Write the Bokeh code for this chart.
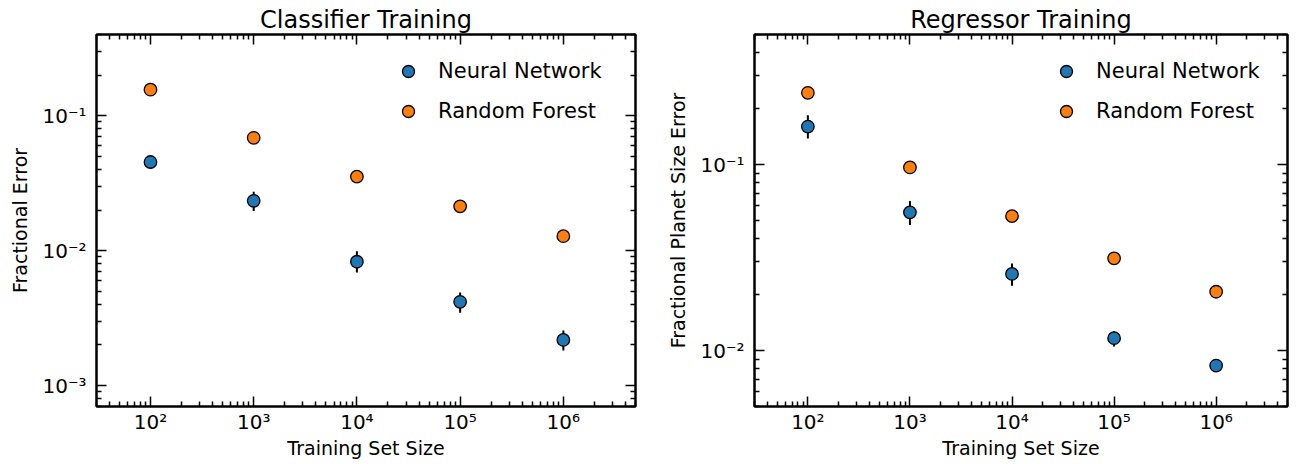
from bokeh.plotting import figure
from bokeh.layouts import row
from bokeh.models import (ColumnDataSource, FixedTicker, LogAxis, Legend, LegendItem,
                          Range1d)
from bokeh.embed import file_html
from bokeh.resources import INLINE

# ---------------- data ----------------
train_size = [1e2, 1e3, 1e4, 1e5, 1e6]

clf_nn = [0.0454, 0.0234, 0.00828, 0.00418, 0.00218]
clf_nn_lo = [0.0405, 0.0197, 0.0069, 0.00347, 0.00182]
clf_nn_hi = [0.0505, 0.0273, 0.0099, 0.0049, 0.00256]
clf_rf = [0.156, 0.0686, 0.0354, 0.0213, 0.0128]

reg_nn = [0.160, 0.0553, 0.0258, 0.01165, 0.0083]
reg_nn_lo = [0.138, 0.0473, 0.0223, 0.0105, 0.0079]
reg_nn_hi = [0.184, 0.0637, 0.0294, 0.0127, 0.0087]
reg_rf = [0.243, 0.0964, 0.0528, 0.0313, 0.0207]

x_ticks = [1e2, 1e3, 1e4, 1e5, 1e6]
x_tick_labels = ["10\u00b2", "10\u00b3", "10\u2074", "10\u2075", "10\u2076"]
clf_y_ticks = [1e-3, 1e-2, 1e-1]
clf_y_tick_labels = ["10\u207b\u00b3", "10\u207b\u00b2", "10\u207b\u00b9"]
reg_y_ticks = [1e-2, 1e-1]
reg_y_tick_labels = ["10\u207b\u00b2", "10\u207b\u00b9"]

series_names = ["Neural Network", "Random Forest"]
colors = ["#1f77b4", "#ff7f0e"]

FONT = "DejaVu Sans"


def minor_ticks(lo_exp, hi_exp, lo, hi):
    out = []
    for e in range(lo_exp, hi_exp + 1):
        for m in range(2, 10):
            v = m * 10.0 ** e
            if lo <= v <= hi:
                out.append(v)
    return out


def style(ax, labels):
    ax.axis_line_color = "black"
    ax.axis_line_width = 2
    ax.major_tick_in = 10
    ax.major_tick_out = 0
    ax.minor_tick_in = 5
    ax.minor_tick_out = 0
    ax.major_tick_line_width = 1.5
    ax.minor_tick_line_width = 1.5
    ax.major_tick_line_color = "black"
    ax.minor_tick_line_color = "black"
    if labels:
        ax.major_label_text_font = FONT
        ax.major_label_text_font_size = "20px"
        ax.major_label_text_color = "black"
        ax.axis_label_text_font = FONT
        ax.axis_label_text_font_size = "19px"
        ax.axis_label_text_font_style = "normal"
        ax.axis_label_text_color = "black"
        ax.major_label_standoff = 3
        ax.axis_label_standoff = 0
    else:
        ax.major_label_text_font_size = "1px"
        ax.major_label_text_alpha = 0
        ax.major_label_standoff = 0


def make_panel(title, ylabel, nn, nn_lo, nn_hi, rf, yrange, yticks, yticklabels,
               width, min_left, min_right):
    xr = (30, 5e6)
    p = figure(width=width, height=462, x_axis_type="log", y_axis_type="log",
               x_range=Range1d(*xr), y_range=Range1d(*yrange),
               output_backend="svg", toolbar_location=None,
               min_border_left=min_left, min_border_right=min_right,
               min_border_top=34, min_border_bottom=56)
    p.title.text = title
    p.title.align = "center"
    p.title.text_font = FONT
    p.title.text_font_style = "normal"
    p.title.text_font_size = "24px"
    p.title.text_color = "black"
    p.title.standoff = 2
    p.grid.visible = False
    p.outline_line_color = "black"
    p.outline_line_width = 2

    xt = FixedTicker(ticks=x_ticks, minor_ticks=minor_ticks(1, 6, xr[0], xr[1]))
    yt = FixedTicker(ticks=yticks, minor_ticks=minor_ticks(-4, 0, yrange[0], yrange[1]))

    xa = p.xaxis[0]
    xa.ticker = xt
    xa.major_label_overrides = dict(zip(x_ticks, x_tick_labels))
    xa.axis_label = "Training Set Size"
    style(xa, True)
    ya = p.yaxis[0]
    ya.ticker = yt
    ya.major_label_overrides = dict(zip(yticks, yticklabels))
    ya.axis_label = ylabel
    style(ya, True)
    ya.major_label_standoff = 10
    ya.axis_label_standoff = 8

    top = LogAxis(ticker=xt)
    style(top, False)
    p.add_layout(top, "above")
    right = LogAxis(ticker=yt)
    style(right, False)
    p.add_layout(right, "right")

    src_nn = ColumnDataSource(dict(x=train_size, y=nn, lo=nn_lo, hi=nn_hi))
    src_rf = ColumnDataSource(dict(x=train_size, y=rf))
    p.segment(x0="x", x1="x", y0="lo", y1="hi", source=src_nn,
              line_color="black", line_width=2)
    r_nn = p.scatter("x", "y", source=src_nn, size=12.5, fill_color=colors[0],
                     line_color="black", line_width=1.3)
    r_rf = p.scatter("x", "y", source=src_rf, size=12.5, fill_color=colors[1],
                     line_color="black", line_width=1.3)

    legend = Legend(items=[LegendItem(label=series_names[0], renderers=[r_nn]),
                           LegendItem(label=series_names[1], renderers=[r_rf])],
                    location=(297, 280), border_line_alpha=0,
                    background_fill_alpha=0, glyph_width=30, glyph_height=30,
                    spacing=10, label_standoff=15, padding=0, margin=0,
                    label_text_font=FONT, label_text_font_size="21px",
                    label_text_color="black")
    p.add_layout(legend)
    return p


p1 = make_panel("Classifier Training", "Fractional Error", clf_nn, clf_nn_lo, clf_nn_hi,
                clf_rf, (7e-4, 0.4), clf_y_ticks, clf_y_tick_labels, 647, 96, 12)
p2 = make_panel("Regressor Training", "Fractional Planet Size Error", reg_nn, reg_nn_lo,
                reg_nn_hi, reg_rf, (0.005, 0.5), reg_y_ticks, reg_y_tick_labels, 648, 107, 8)

layout = row(p1, p2)
open("out.html", "w").write(file_html(layout, INLINE))
